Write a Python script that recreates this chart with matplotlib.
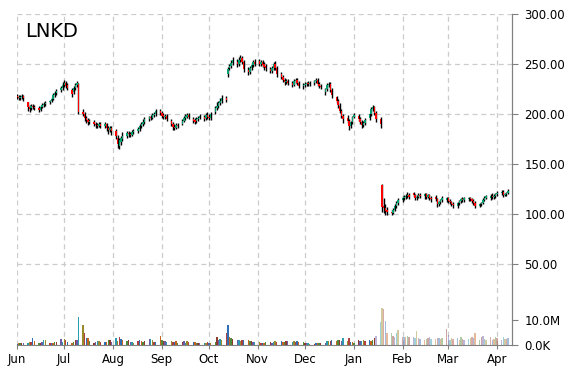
import numpy as np
import pandas as pd
import matplotlib
matplotlib.use('Agg')
import matplotlib.pyplot as plt
import matplotlib.dates as mdates

# ---- daily data, one line per week (Mon..Fri), starting Jun 1 2015 ----
opens = [
    218, 217, 216, 217, 218,
    212, 207, 206, 208, 207,
    206, 204, 207, 209, 210,
    212, 213, 215, 219, 221,
    224, 226, 229, 231, 229,
    224, 222, 226, 229, 230,
    202, 200, 196, 194, 192,
    192, 190, 189, 188, 190,
    188, 190, 186, 184, 186,
    183, 176, 168, 172, 175,
    178, 181, 180, 179, 182,
    183, 185, 188, 190, 192,
    195, 197, 196, 199, 200,
    203, 201, 199, 197, 198,
    193, 190, 187, 186, 189,
    190, 193, 196, 197, 199,
    195, 194, 193, 195, 196,
    197, 196, 199, 197, 196,
    202, 206, 208, 211, 213,
    216, 240, 246, 248, 251,
    252, 250, 254, 256, 252,
    244, 242, 246, 249, 252,
    253, 250, 252, 250, 248,
    245, 243, 246, 250, 246,
    240, 237, 234, 232, 233,
    231, 229, 233, 234, 231,
    228, 229, 230, 231, 230,
    231, 233, 234, 230, 228,
    222, 225, 229, 230, 224,
    217, 213, 208, 203, 198,
    196, 193, 188, 192, 197,
    198, 195, 192, 189, 191,
    196, 200, 205, 207, 201,
    195, 129, 108, 106, 104,
    102, 101, 104, 108, 111,
    114, 116, 117, 118, 119,
    121, 119, 116, 117, 119,
    118, 120, 117, 119, 116,
    117, 115, 110, 112, 114,
    114, 116, 113, 112, 110,
    108, 111, 113, 115, 114,
    115, 116, 115, 113, 111,
    108, 110, 111, 114, 116,
    116, 118, 117, 118, 120,
    121, 122, 119, 120, 121,
]
closes = [
    217, 216, 217, 218, 216,
    207, 205, 208, 207, 206,
    204, 207, 209, 210, 211,
    213, 215, 219, 221, 223,
    226, 229, 231, 228, 226,
    220, 226, 229, 231, 202,
    200, 196, 194, 192, 193,
    190, 189, 188, 190, 188,
    190, 186, 184, 186, 183,
    178, 170, 174, 176, 178,
    181, 180, 179, 182, 183,
    185, 188, 190, 192, 195,
    197, 196, 199, 200, 203,
    201, 198, 197, 198, 195,
    190, 187, 186, 189, 188,
    193, 196, 198, 199, 197,
    193, 192, 195, 196, 198,
    195, 199, 197, 196, 200,
    206, 208, 211, 213, 216,
    214, 245, 248, 251, 254,
    250, 254, 256, 252, 245,
    242, 246, 249, 252, 250,
    250, 252, 249, 247, 246,
    243, 246, 250, 246, 240,
    237, 234, 232, 233, 231,
    229, 233, 234, 231, 228,
    229, 230, 231, 230, 231,
    233, 234, 230, 228, 227,
    225, 229, 230, 224, 219,
    213, 209, 203, 198, 195,
    193, 188, 192, 197, 199,
    195, 192, 189, 191, 194,
    200, 205, 207, 201, 195,
    190, 107, 106, 103, 102,
    101, 104, 108, 111, 114,
    116, 117, 118, 119, 117,
    119, 116, 117, 119, 118,
    120, 117, 119, 116, 115,
    115, 110, 112, 114, 116,
    116, 113, 112, 110, 109,
    111, 113, 115, 114, 116,
    116, 115, 113, 111, 108,
    110, 111, 114, 116, 118,
    118, 117, 118, 120, 121,
    122, 119, 120, 121, 123,
]
highs = [
    220, 219, 219, 220, 219,
    212, 209, 210, 210, 209,
    208, 209, 211, 212, 213,
    214, 217, 221, 223, 225,
    228, 232, 234, 233, 231,
    226, 228, 231, 233, 231,
    205, 202, 198, 196, 195,
    194, 192, 191, 192, 192,
    192, 191, 188, 188, 188,
    185, 179, 176, 178, 182,
    183, 183, 182, 184, 185,
    187, 190, 192, 195, 197,
    198, 199, 201, 202, 205,
    205, 203, 201, 200, 200,
    195, 192, 190, 191, 191,
    195, 198, 200, 201, 201,
    197, 196, 197, 198, 200,
    199, 201, 202, 200, 202,
    208, 212, 213, 216, 219,
    218, 247, 250, 254, 257,
    255, 257, 259, 258, 254,
    247, 248, 251, 254, 255,
    255, 254, 254, 252, 250,
    247, 248, 252, 253, 248,
    242, 239, 236, 235, 235,
    233, 235, 236, 236, 233,
    231, 232, 232, 233, 233,
    234, 236, 236, 232, 230,
    226, 231, 232, 232, 226,
    218, 215, 211, 205, 200,
    199, 195, 193, 198, 201,
    200, 197, 194, 193, 196,
    201, 207, 209, 208, 203,
    197, 130, 116, 110, 107,
    104, 106, 110, 113, 116,
    118, 119, 120, 122, 121,
    122, 120, 119, 121, 121,
    121, 121, 120, 120, 118,
    119, 116, 113, 115, 118,
    117, 117, 115, 113, 112,
    112, 114, 116, 117, 117,
    117, 117, 116, 115, 113,
    111, 112, 116, 118, 119,
    120, 121, 120, 121, 123,
    124, 124, 121, 122, 125,
]
lows = [
    215, 214, 214, 215, 213,
    203, 202, 204, 205, 204,
    202, 203, 206, 207, 208,
    210, 212, 214, 217, 219,
    222, 224, 227, 226, 224,
    217, 220, 224, 227, 200,
    198, 193, 191, 189, 190,
    188, 186, 186, 187, 186,
    186, 183, 180, 182, 179,
    175, 166, 165, 169, 173,
    176, 177, 177, 178, 180,
    181, 183, 186, 188, 190,
    193, 194, 195, 197, 198,
    199, 196, 195, 195, 193,
    188, 184, 184, 185, 186,
    189, 192, 194, 196, 195,
    191, 190, 191, 193, 195,
    193, 194, 195, 194, 194,
    200, 204, 206, 209, 211,
    212, 237, 244, 246, 249,
    247, 248, 252, 250, 242,
    239, 240, 244, 247, 248,
    248, 248, 247, 244, 243,
    241, 241, 244, 244, 237,
    235, 232, 229, 230, 229,
    227, 228, 231, 229, 226,
    225, 227, 228, 228, 228,
    229, 231, 228, 226, 225,
    219, 223, 227, 222, 216,
    211, 206, 201, 196, 191,
    191, 184, 186, 190, 196,
    193, 190, 186, 187, 189,
    194, 198, 203, 199, 192,
    186, 102, 101, 99, 99,
    99, 100, 103, 106, 109,
    112, 114, 115, 116, 115,
    117, 114, 114, 116, 116,
    115, 115, 116, 114, 112,
    113, 107, 108, 110, 112,
    112, 111, 110, 108, 106,
    106, 109, 111, 112, 112,
    113, 113, 111, 109, 106,
    107, 108, 110, 113, 115,
    114, 115, 115, 116, 118,
    119, 117, 118, 118, 120,
]
# volume in millions of shares
volumes = [
    0.6, 0.9, 1.0, 0.9, 0.8,
    1.0, 1.2, 1.1, 2.7, 1.5,
    0.9, 1.0, 1.2, 1.9, 2.2,
    1.0, 0.8, 0.9, 1.3, 1.1,
    2.3, 1.4, 2.4, 2.0, 1.2,
    1.0, 1.3, 2.0, 2.0, 11.3,
    8.0, 4.7, 2.7, 2.7, 1.6,
    1.0, 1.2, 1.8, 1.5, 1.2,
    1.4, 1.1, 2.0, 2.1, 1.3,
    2.7, 1.6, 3.2, 2.3, 1.9,
    1.6, 2.0, 1.4, 1.1, 1.0,
    1.5, 1.9, 1.8, 1.2, 1.6,
    2.3, 2.5, 2.0, 1.3, 1.1,
    3.6, 2.0, 1.8, 1.6, 1.2,
    1.6, 1.4, 1.2, 1.5, 1.0,
    1.3, 1.5, 1.0, 1.6, 1.4,
    1.2, 1.1, 1.0, 1.0, 0.9,
    1.0, 0.8, 1.1, 0.9, 1.0,
    1.2, 3.3, 2.0, 2.3, 2.2,
    4.7, 8.0, 3.2, 2.8, 2.6,
    2.0, 2.2, 1.8, 2.1, 2.0,
    1.9, 1.5, 1.6, 1.3, 1.2,
    1.2, 1.0, 0.7, 0.9, 1.1,
    1.3, 0.9, 1.4, 1.5, 1.4,
    1.6, 1.4, 1.2, 1.5, 1.6,
    1.4, 1.6, 1.3, 1.5, 1.1,
    1.2, 1.0, 0.7, 0.8, 0.6,
    0.5, 0.7, 0.9, 0.8, 0.9,
    0.8, 1.6, 1.7, 1.5, 1.9,
    1.6, 1.9, 2.1, 1.7, 2.7,
    1.5, 2.7, 1.3, 1.2, 0.9,
    2.2, 1.6, 1.5, 1.9, 1.8,
    2.1, 1.5, 1.9, 2.7, 3.6,
    9.3, 14.7, 14.3, 9.7, 4.9,
    4.8, 3.6, 3.2, 4.9, 6.0,
    3.3, 3.4, 3.1, 3.5, 3.2,
    3.3, 2.8, 5.6, 3.0, 2.5,
    2.2, 2.6, 3.0, 3.2, 2.4,
    2.5, 3.0, 2.7, 2.4, 2.7,
    6.3, 4.0, 2.2, 3.0, 2.6,
    2.8, 2.2, 3.2, 2.5, 2.0,
    2.3, 2.7, 3.3, 2.9, 4.7,
    2.2, 3.3, 3.5, 2.4, 2.0,
    3.1, 2.0, 2.6, 3.4, 2.7,
    2.2, 3.3, 2.5, 2.6, 3.0,
]
price_ticks = [50, 100, 150, 200, 250, 300]
vol_ticks = [0, 10]
vol_labels = ['0.0K', '10.0M']

dates = pd.bdate_range('2015-06-01', periods=len(closes))
x = mdates.date2num(dates)
o = np.array(opens, float)
c = np.array(closes, float)
h = np.array(highs, float)
l = np.array(lows, float)
v = np.array(volumes, float)

fig = plt.figure(figsize=(5.7, 3.7), dpi=100)
ax = fig.add_axes([17/570, 1 - 345/370, 495/570, 331/370])
ax.set_xlim(mdates.date2num(pd.Timestamp('2015-06-01')),
            mdates.date2num(pd.Timestamp('2016-04-10 12:00')))
ax.set_ylim(-31, 300)

grid_kw = dict(color='#cccccc', linestyle=(0, (4, 3)), linewidth=0.9)
ax.grid(True, axis='both', **grid_kw)
ax.set_axisbelow(True)

# candles: black wick, coloured body on top
up = c >= o
body_col = np.where(up, '#00a070', '#ff0000')
ax.vlines(x, l, h, color='black', linewidth=1.0, zorder=2)
ax.bar(x, c - o, bottom=o, width=0.9, color=body_col, linewidth=0, zorder=3)

# volume on a second scale
vax = ax.twinx()
vax.set_ylim(0, 132.4)
pal = ['#2f6db5', '#c8641e', '#4d8c3a', '#8e3b2f', '#6b5ba8', '#2a9bb0', '#9a8a2a', '#b04040']
vcols = np.array([pal[i % len(pal)] for i in range(len(v))])
late = dates >= pd.Timestamp('2016-01-15')
vax.bar(x[~late], v[~late], width=0.9, color=vcols[~late], linewidth=0)
vax.bar(x[late], v[late], width=0.9, color=vcols[late], alpha=0.45, linewidth=0)

ax.set_yticks(price_ticks)
ax.set_yticklabels([f'{t:.2f}' for t in price_ticks])
ax.yaxis.tick_right()
vax.set_yticks(vol_ticks)
vax.set_yticklabels(vol_labels)

ax.xaxis.set_major_locator(mdates.MonthLocator())
ax.xaxis.set_major_formatter(mdates.DateFormatter('%b'))

for a in (ax, vax):
    for s in ('left', 'top', 'bottom'):
        a.spines[s].set_visible(False)
    a.spines['right'].set_color('#808080')
    a.tick_params(axis='y', direction='out', length=4, color='#808080',
                  labelsize=8.5, pad=5, labelcolor='black')
ax.spines['bottom'].set_visible(True)
ax.spines['bottom'].set_color('#808080')
ax.tick_params(axis='x', direction='out', length=3, color='#808080',
               labelsize=8.5, pad=3)

ax.text(0.016, 0.975, 'LNKD', transform=ax.transAxes, fontsize=14,
        va='top', ha='left')

fig.savefig('out.png', dpi=100)
